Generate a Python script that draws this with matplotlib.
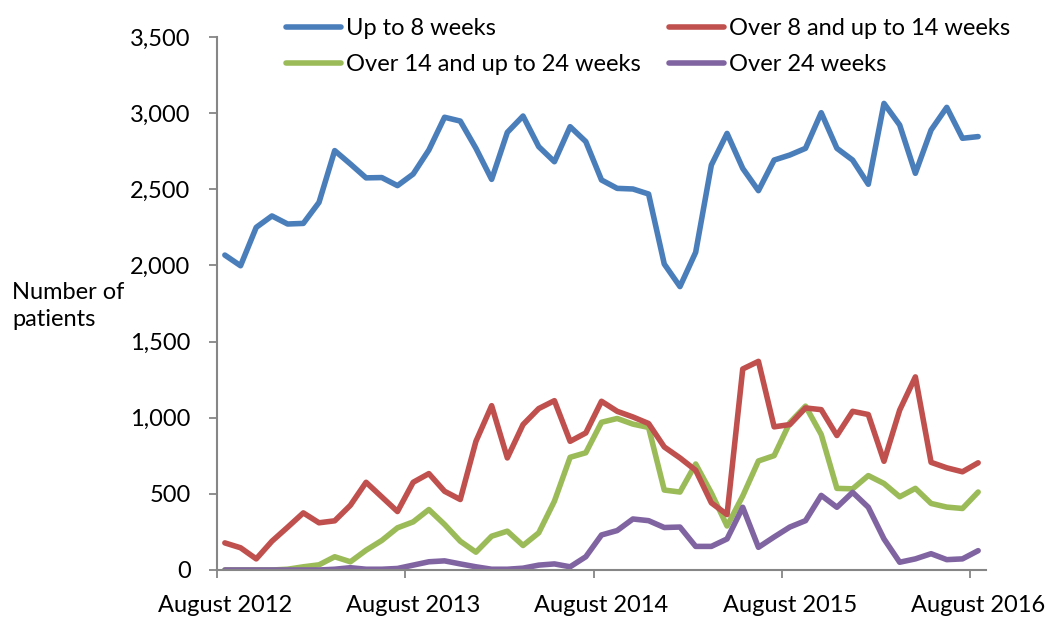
import matplotlib
matplotlib.use("Agg")
import matplotlib.pyplot as plt
from matplotlib.ticker import FuncFormatter, FixedLocator
import numpy as np

plt.rcParams['font.family'] = ['Lato', 'DejaVu Sans']

tick_labels = ["August 2012", "August 2013", "August 2014", "August 2015", "August 2016"]
n_months = 49

up_to_8 = [2068, 1998, 2250, 2325, 2272, 2276, 2414, 2754, 2666, 2575, 2577, 2524,
           2600, 2758, 2973, 2948, 2769, 2565, 2874, 2981, 2780, 2681, 2911, 2813,
           2561, 2506, 2502, 2469, 2009, 1861, 2086, 2659, 2867, 2637, 2491, 2692,
           2725, 2769, 3003, 2769, 2692, 2533, 3064, 2922, 2605, 2889, 3038, 2835, 2846]
over_8_14 = [178, 146, 73, 189, 281, 375, 310, 323, 425, 576, 480, 384,
             576, 633, 517, 463, 845, 1079, 736, 955, 1060, 1112, 845, 900,
             1108, 1042, 1005, 962, 808, 736, 655, 441, 364, 1320, 1370, 940,
             955, 1064, 1053, 883, 1042, 1021, 714, 1050, 1268, 707, 671, 645, 704]
over_14_24 = [0, 0, 0, 0, 5, 21, 34, 87, 54, 130, 194, 277,
              316, 397, 299, 189, 117, 222, 255, 161, 244, 452, 740, 770,
              970, 995, 958, 936, 525, 512, 696, 506, 289, 486, 716, 751,
              968, 1076, 890, 536, 533, 620, 568, 481, 536, 437, 413, 404, 512]
over_24 = [0, 0, 0, 0, 0, 0, 0, 5, 15, 5, 5, 10,
           32, 54, 60, 40, 21, 5, 5, 12, 32, 40, 21, 87,
           230, 259, 335, 324, 279, 282, 155, 155, 204, 412, 149, 217,
           282, 324, 490, 412, 510, 412, 204, 51, 73, 107, 68, 73, 127]

series = [
    ("Up to 8 weeks", up_to_8, "#4A7EBB"),
    ("Over 14 and up to 24 weeks", over_14_24, "#9BBB59"),
    ("Over 8 and up to 14 weeks", over_8_14, "#C0504D"),
    ("Over 24 weeks", over_24, "#8064A2"),
]

FS = 17

fig = plt.figure(figsize=(10.48, 6.17), dpi=100)
ax = fig.add_axes([217/1048, 47/617, (986-217)/1048, (570-37)/617])

x = np.arange(n_months)
handles = []
for name, vals, col in series:
    h, = ax.plot(x, vals, color=col, lw=4.0, solid_joinstyle='round', solid_capstyle='round', label=name)
    handles.append(h)

ax.set_xlim(-0.5, n_months - 0.5)
ax.set_ylim(0, 3500)
ax.set_yticks(np.arange(0, 3501, 500))
ax.yaxis.set_major_formatter(FuncFormatter(lambda v, p: f"{int(v):,}"))

ax.xaxis.set_major_locator(FixedLocator([-0.5, 11.5, 23.5, 35.5, 47.5]))
ax.xaxis.set_major_formatter(FuncFormatter(lambda v, p: ""))
ax.xaxis.set_minor_locator(FixedLocator([0, 12, 24, 36, 48]))
ax.set_xticklabels(tick_labels, minor=True)
ax.tick_params(axis='x', which='minor', length=0, pad=18, labelsize=FS, colors='black')
ax.tick_params(axis='x', which='major', length=6, width=1.3, color='#868686', direction='out')
ax.tick_params(axis='y', length=6, width=1.3, color='#868686', labelsize=FS, pad=13)

for s in ['top', 'right']:
    ax.spines[s].set_visible(False)
for s in ['left', 'bottom']:
    ax.spines[s].set_color('#868686')
    ax.spines[s].set_linewidth(1.5)

fig.text(12/1048, 1 - 306/617, "Number of\npatients", fontsize=FS, ha='left', va='center', linespacing=1.4)

leg = fig.legend(handles=handles, loc='upper left', bbox_to_anchor=(277/1048, 1 - 9/617),
                 ncol=2, frameon=False, fontsize=FS, handlelength=2.33, handletextpad=0.2,
                 columnspacing=1.2, labelspacing=0.62, borderaxespad=0)

fig.savefig("out.png", dpi=100)
